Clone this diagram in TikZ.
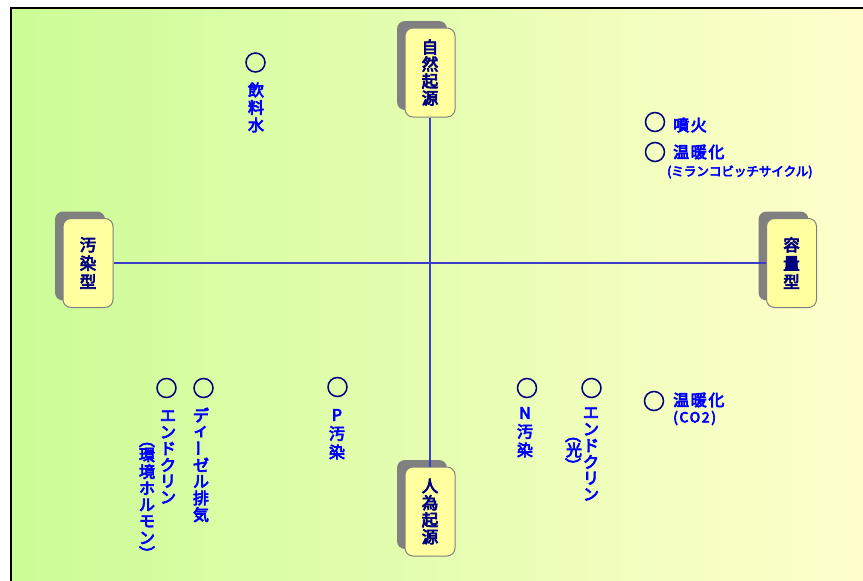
\documentclass[tikz,border=0pt]{standalone}
\usepackage{fontspec}
\usepackage{graphicx}
\newfontfamily\jp{Noto Sans CJK JP}[FakeBold=4.5]
\usetikzlibrary{shadows}
\definecolor{bgL}{RGB}{204,252,150}
\definecolor{bgR}{RGB}{255,255,204}
\definecolor{navy}{RGB}{0,0,128}
\definecolor{itemblue}{RGB}{0,0,255}
\definecolor{axisblue}{RGB}{60,60,200}
\definecolor{boxfill}{RGB}{255,255,160}
\definecolor{shadowgray}{RGB}{128,128,128}
\newcommand\vcol[5]{%
  \foreach \vc [count=\vi] in {#5} {\node[vch] (#1-\vi) at (#2,{#3+(\vi-1)*#4}) {\vc};}}
\begin{document}
\begin{tikzpicture}[x=1pt,y=-1pt,
  lbox/.style={draw=shadowgray, line width=1pt, fill=boxfill, rounded corners=8pt,
    minimum width=50pt, minimum height=89pt, inner sep=0pt, align=center, text=navy,
    drop shadow={shadow xshift=-8pt, shadow yshift=7pt, fill=shadowgray, opacity=1, draw=none}},
  lbfour/.style={lbox, font=\jp\fontsize{16.5}{17}\selectfont},
  lbthree/.style={lbox, font=\jp\fontsize{16.5}{18.5}\selectfont},
  axisline/.style={draw=axisblue, line width=2pt},
  mark circle/.style={circle, draw=navy, line width=1.5pt, minimum size=19pt, inner sep=0pt},
  vch/.style={inner sep=0pt, text=itemblue, font=\jp\fontsize{16}{16}\selectfont},
  htext/.style={inner sep=0pt, anchor=west, text=itemblue, font=\jp\fontsize{16}{17}\selectfont\addfontfeature{LetterSpace=10}},
  hsmall/.style={inner sep=0pt, anchor=west, text=itemblue, font=\jp\fontsize{12.5}{13}\selectfont},
  hco/.style={inner sep=0pt, anchor=west, text=itemblue, font=\jp\fontsize{14}{15}\selectfont\addfontfeature{LetterSpace=12}}
]
\useasboundingbox (0,0) rectangle (863,581);
% background frame
\fill[left color=bgL, right color=bgR] (11,8) rectangle (863,581);
\draw[line width=2.5pt] (863,8) -- (11,8) -- (11,581);

% category boxes
\node[lbfour] (src) at (430,72.5) {自\\然\\起\\源};
\node[lbfour] (man) at (430,511.5) {人\\為\\起\\源};
\node[lbthree] (pol) at (88,263) {汚\\染\\型};
\node[lbthree] (cap) at (791.5,263) {容\\量\\型};

% axes
\draw[axisline] (src.south) -- (man.north);
\draw[axisline] (pol.east) -- (cap.west);

% markers
\node[mark circle] (c1) at (255.5,62.5) {};
\node[mark circle] (c2) at (655,122) {};
\node[mark circle] (c3) at (655,152) {};
\node[mark circle] (c4) at (654,401) {};
\node[mark circle] (c5) at (166.5,388) {};
\node[mark circle] (c6) at (203.5,388) {};
\node[mark circle] (c7) at (337.5,387) {};
\node[mark circle] (c8) at (527,388) {};
\node[mark circle] (c9) at (591.5,388) {};

% horizontal labels
\node[htext] (t2) at (673,125) {噴火};
\node[htext] (t3) at (673,152) {温暖化};
\node[hsmall] (t3b) at (667,172) {(ミランコビッチサイクル)};
\node[htext] (t4) at (673,400) {温暖化};
\node[hco] (t4b) at (673,418) {(CO2)};

% vertical labels
\vcol{drink}{256}{90}{17.5}{飲,料,水}
\vcol{diesel}{201}{415}{16.6}{デ,ィ,{\rotatebox[origin=c]{90}{ー}},ゼ,ル,排,気}
\vcol{endoL}{168}{416}{16.3}{エ,ン,ド,ク,リ,ン}
\vcol{horm}{147}{455}{16.6}{環,境,ホ,ル,モ,ン}
\node[vch] (hormo) at (147,445) {︵};
\node[vch] (hormc) at (147,553) {︶};
\vcol{ppol}{337}{415}{18.5}{P,汚,染}
\vcol{npol}{525}{413}{18.5}{N,汚,染}
\vcol{endoR}{591}{413}{16.3}{エ,ン,ド,ク,リ,ン}
\node[vch] (light) at (574,450) {光};
\node[vch] (lighto) at (573,440) {︵};
\node[vch] (lightc) at (573,465) {︶};
\end{tikzpicture}
\end{document}
